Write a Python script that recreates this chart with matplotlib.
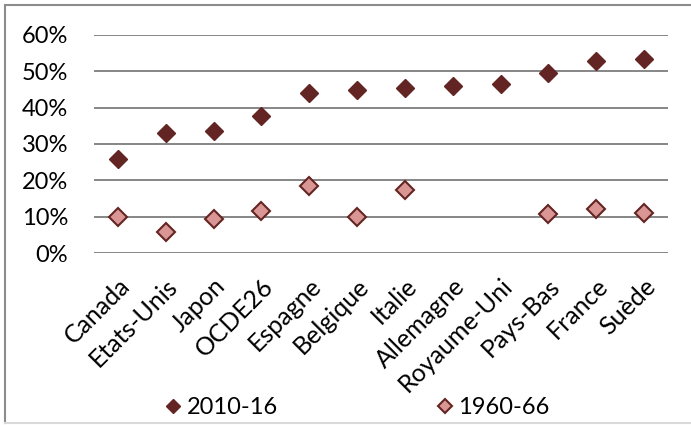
import numpy as np
import matplotlib
matplotlib.use("Agg")
import matplotlib.pyplot as plt
from matplotlib.lines import Line2D
from matplotlib.ticker import PercentFormatter

# share of public spending in GDP, by country
pays = ["Canada", "Etats-Unis", "Japon", "OCDE26", "Espagne", "Belgique",
        "Italie", "Allemagne", "Royaume-Uni", "Pays-Bas", "France", "Suède"]
recent = [0.260, 0.330, 0.337, 0.378, 0.440, 0.447,
          0.455, 0.459, 0.466, 0.496, 0.527, 0.534]
ancien = [0.100, 0.059, 0.093, 0.117, 0.185, 0.100,
          0.175, np.nan, np.nan, 0.108, 0.121, 0.110]
labels = ["2010-16", "1960-66"]

dark = "#632523"
light = "#D99694"

plt.rcParams["font.family"] = ["Lato", "DejaVu Sans"]

fig = plt.figure(figsize=(6.91, 4.25), dpi=100)
ax = fig.add_axes([94 / 691, 1 - 253.3 / 425, 574 / 691, 218.6 / 425])

x = np.arange(len(pays))
ax.plot(x, recent, "D", color=dark, markersize=9.5, markeredgecolor=dark,
        label=labels[0], zorder=3)
ax.plot(x, ancien, "D", color=light, markersize=9.5, markeredgecolor=dark,
        markeredgewidth=1.5, label=labels[1], zorder=3)

ax.set_xlim(-0.5, len(pays) - 0.5)
ax.set_ylim(0, 0.6)
ax.set_yticks(np.arange(0, 0.61, 0.1))
ax.yaxis.set_major_formatter(PercentFormatter(1.0, decimals=0))
ax.grid(axis="y", color="#868686", linewidth=1.4)
ax.set_axisbelow(True)
for s in ax.spines.values():
    s.set_visible(False)
ax.tick_params(axis="y", length=0, pad=18.5, labelsize=17)
ax.tick_params(axis="x", length=0, pad=15, labelsize=18)
ax.set_xticks(x)
ax.set_xticklabels(pays, rotation=45, ha="right", rotation_mode="anchor")

fig.legend(loc="center", bbox_to_anchor=(358 / 691, 1 - 408 / 425), ncol=2,
           frameon=False, fontsize=17, handlelength=0.6, handletextpad=0.25,
           columnspacing=6.8, markerscale=0.8, borderpad=0)

# chart frame
frame = "#8c8c8c"
fig.add_artist(Line2D([5 / 691, 5 / 691], [1 - 5 / 425, 1 - 423 / 425],
                      transform=fig.transFigure, color=frame, linewidth=1.5))
fig.add_artist(Line2D([5 / 691, 1], [1 - 5 / 425, 1 - 5 / 425],
                      transform=fig.transFigure, color=frame, linewidth=1.5))
fig.add_artist(Line2D([5 / 691, 1], [1 - 423 / 425, 1 - 423 / 425],
                      transform=fig.transFigure, color="#d9d9d9", linewidth=1.5))

fig.savefig("out.png", dpi=100)
